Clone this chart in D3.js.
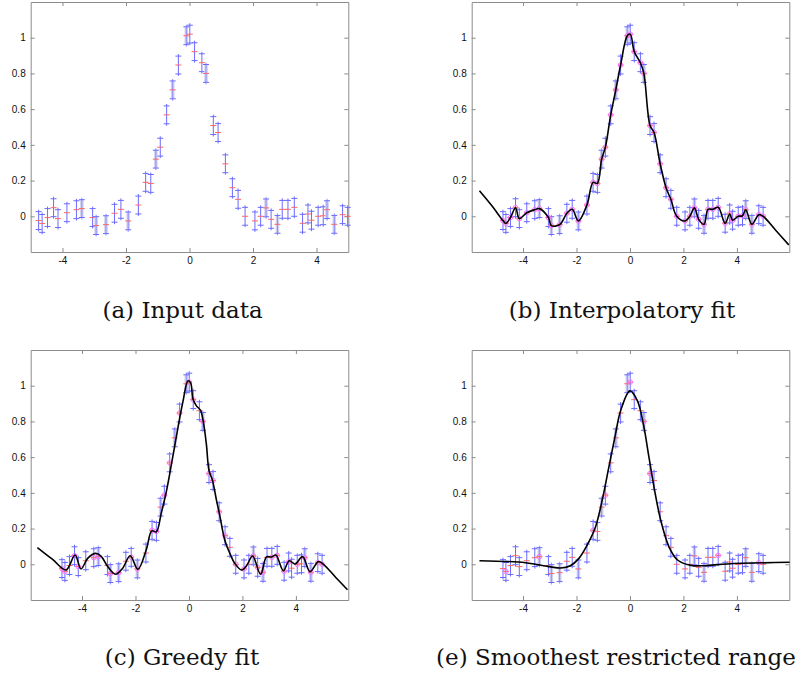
<!DOCTYPE html>
<html>
<head>
<meta charset="utf-8">
<script src="https://cdn.jsdelivr.net/npm/d3@7"></script>
<style>
body { margin: 0; background: #fff; }
</style>
</head>
<body>
<div id="fig"></div>
<script>
// measured samples (same in every panel)
const xVals = [-4.75,-4.64,-4.47,-4.28,-4.14,-3.86,-3.56,-3.39,-3.05,-2.94,-2.63,-2.36,-2.16,-1.93,-1.61,-1.38,-1.22,-1.06,-0.92,-0.72,-0.53,-0.35,-0.10,0.01,0.16,0.39,0.52,0.75,0.90,1.13,1.35,1.53,1.75,2.06,2.24,2.41,2.57,2.77,2.92,3.10,3.30,3.56,3.73,3.84,4.05,4.21,4.33,4.56,4.82,4.98];
const yVals = [-0.024,-0.040,-0.007,0.048,-0.013,0.020,0.037,0.043,-0.007,-0.052,-0.047,0.017,0.039,-0.026,0.063,0.190,0.184,0.320,0.387,0.568,0.708,0.847,1.011,1.020,0.922,0.860,0.800,0.508,0.469,0.294,0.160,0.095,0.000,-0.026,0.000,0.047,-0.017,-0.045,0.039,0.039,0.050,-0.039,0.013,-0.022,0.000,0.003,0.037,-0.045,0.009,0.000];
const errHalf = 0.05;
// bars that look washed out in the original
const fadedBars = [7,9,10,13,17,20,22,26,35,37,46,47];

// (b) interpolatory fit goes through the samples, plus the straight end pieces
const fitBLeftX = [-5.63,-5.15], fitBLeftY = [0.143,0.056];
const fitBRightX = [5.45,5.94], fitBRightY = [-0.078,-0.160];

// (c) greedy fit
const fitCx = [-5.67,-5.10,-4.60,-4.26,-4.04,-3.79,-3.51,-3.29,-3.04,-2.75,-2.48,-2.20,-1.91,-1.60,-1.39,-1.22,-1.04,-0.85,-0.62,-0.41,-0.22,-0.04,0.06,0.15,0.28,0.43,0.53,0.65,0.75,0.88,1.03,1.15,1.34,1.53,1.71,1.97,2.15,2.38,2.68,2.90,3.09,3.25,3.53,3.75,3.97,4.25,4.53,4.84,5.03,5.50,5.93];
const fitCy = [0.093,0.027,-0.032,0.052,-0.026,0.033,0.061,0.046,-0.013,-0.056,-0.022,0.048,-0.028,0.080,0.187,0.182,0.284,0.404,0.590,0.767,0.915,1.027,1.017,0.925,0.887,0.863,0.804,0.674,0.525,0.470,0.358,0.275,0.135,0.061,0.006,-0.032,-0.009,0.046,-0.056,0.041,0.041,0.052,-0.036,0.020,0.002,0.043,-0.041,0.015,0.000,-0.075,-0.143];

// (e) smoothest fit
const fitEx = [-5.63,-3.91,-3.23,-2.60,-2.23,-1.91,-1.60,-1.29,-1.04,-0.79,-0.54,-0.35,0.00,0.28,0.50,0.71,0.90,1.15,1.46,1.78,2.28,2.78,3.65,5.97];
const fitEy = [0.020,0.009,-0.008,-0.021,-0.008,0.033,0.108,0.209,0.358,0.544,0.730,0.860,0.971,0.915,0.786,0.600,0.432,0.247,0.098,0.024,-0.006,-0.008,0.002,0.011];

// which samples get a magenta ring
const ringsB = d3.range(xVals.length);
const ringsC = [0,1,3,4,6,7,9,10,12,13,15,16,18,19,21,23,24,26,27,28,29,30,32,33,35,36,37,39,40,41,42,44,46,47,48,49];
const ringsE = [1,7,15,18,23,26,27,40,48];

const xTicks = [-4,-2,0,2,4];
const yTicks = [0,0.2,0.4,0.6,0.8,1];

const W = 801, H = 677;
const svg = d3.select('#fig').append('svg').attr('width', W).attr('height', H);

const zip = (a, b) => a.map((v, i) => [v, b[i]]);
const points = zip(xVals, yVals);

const panels = [
  { caption: '(a) Input data', xd: [-5, 5], left: 30.7, top: 2, fit: null, rings: [], cx: 182.6, cy: 318 },
  { caption: '(b) Interpolatory fit', xd: [-5.92, 5.96], left: 471.7, top: 2,
    fit: zip(fitBLeftX, fitBLeftY).concat(points, zip(fitBRightX, fitBRightY)), rings: ringsB, cx: 622, cy: 318 },
  { caption: '(c) Greedy fit', xd: [-5.92, 5.96], left: 30.7, top: 350, fit: zip(fitCx, fitCy), rings: ringsC, cx: 182, cy: 665 },
  { caption: '(e) Smoothest restricted range', xd: [-5.92, 5.96], left: 471.7, top: 350, fit: zip(fitEx, fitEy), rings: ringsE, cx: 616, cy: 665 }
];
const pw = 317.6, ph = 250;

panels.forEach(function(p) {
  const g = svg.append('g').attr('transform', `translate(${p.left},${p.top})`);
  const x = d3.scaleLinear().domain(p.xd).range([0, pw]);
  const y = d3.scaleLinear().domain([-0.2, 1.2]).range([ph, 0]);

  // box with inward ticks on all four sides
  const axes = [
    [d3.axisBottom(x).tickValues(xTicks), `translate(0,${ph})`, true],
    [d3.axisTop(x).tickValues(xTicks), null, false],
    [d3.axisLeft(y).tickValues(yTicks), null, true],
    [d3.axisRight(y).tickValues(yTicks), `translate(${pw},0)`, false]
  ];
  axes.forEach(function(a) {
    const ax = a[0].tickSizeInner(-4).tickSizeOuter(0).tickPadding(5);
    ax.tickFormat(a[2] ? (d => String(d)) : '');
    const ag = g.append('g').call(ax);
    if (a[1]) ag.attr('transform', a[1]);
    ag.attr('font-family', '"Liberation Sans", Arial, sans-serif').attr('font-size', 10);
    ag.select('.domain').attr('stroke', '#8c8c8c');
    ag.selectAll('.tick line').attr('stroke', '#8c8c8c');
    ag.selectAll('.tick text').attr('fill', '#111');
  });

  // error bars
  const bars = g.append('g').selectAll('g').data(points).enter().append('g');
  bars.filter((d, i) => fadedBars.indexOf(i) >= 0).append('line')
    .attr('x1', d => x(d[0])).attr('x2', d => x(d[0]))
    .attr('y1', d => y(d[1] + errHalf)).attr('y2', d => y(d[1] - errHalf))
    .attr('stroke', '#cfd0ee').attr('stroke-width', 3.5);
  bars.append('line')
    .attr('x1', d => x(d[0])).attr('x2', d => x(d[0]))
    .attr('y1', d => y(d[1] + errHalf) - 2).attr('y2', d => y(d[1] - errHalf) + 2)
    .attr('stroke', (d, i) => fadedBars.indexOf(i) >= 0 ? '#8f8fff' : '#6a6aff').attr('stroke-width', 1);
  [errHalf, -errHalf].forEach(function(e) {
    bars.append('line')
      .attr('x1', d => x(d[0]) - 3).attr('x2', d => x(d[0]) + 3)
      .attr('y1', d => y(d[1] + e)).attr('y2', d => y(d[1] + e))
      .attr('stroke', '#6a6aff').attr('stroke-width', 1);
  });
  bars.append('line')
    .attr('x1', d => x(d[0]) - 3).attr('x2', d => x(d[0]) + 3)
    .attr('y1', d => y(d[1])).attr('y2', d => y(d[1]))
    .attr('stroke', '#ff6464').attr('stroke-width', 1);

  // selected centres
  g.append('g').selectAll('circle').data(p.rings.map(i => points[i])).enter().append('circle')
    .attr('cx', d => x(d[0])).attr('cy', d => y(d[1])).attr('r', 2.3)
    .attr('fill', 'none').attr('stroke', '#ff70ff').attr('stroke-width', 1);

  if (p.fit) {
    const line = d3.line().x(d => x(d[0])).y(d => y(d[1])).curve(d3.curveCatmullRom.alpha(0.5));
    g.append('path').attr('d', line(p.fit))
      .attr('fill', 'none').attr('stroke', '#000').attr('stroke-width', 1.6);
  }

  svg.append('text').attr('x', p.cx).attr('y', p.cy)
    .attr('text-anchor', 'middle')
    .attr('font-family', '"DejaVu Serif", serif').attr('font-size', 23)
    .attr('fill', '#111')
    .text(p.caption);
});
</script>
</body>
</html>
